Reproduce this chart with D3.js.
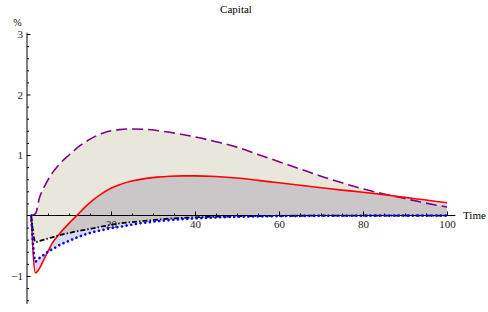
<!DOCTYPE html>
<html>
<head>
<meta charset="utf-8">
<script src="https://cdn.jsdelivr.net/npm/d3@7"></script>
<style>
  body { margin: 0; background: #fff; }
  svg text { font-family: "Liberation Serif", "Times New Roman", "DejaVu Serif", serif; }
</style>
</head>
<body>
<svg id="chart"></svg>
<script>
const width = 488;
const height = 312;

// time points and the four impulse responses (%)
const time   = [1, 2, 3, 4, 5, 6, 8, 10, 12, 14, 16, 18, 20, 22, 25, 28, 31, 34, 37, 40, 45, 50, 55, 60, 65, 70, 75, 80, 85, 90, 95, 100];
const purple = [0, 0.03, 0.3, 0.46, 0.59, 0.7, 0.87, 1.0, 1.12, 1.22, 1.3, 1.36, 1.4, 1.42, 1.43, 1.425, 1.405, 1.375, 1.34, 1.3, 1.22, 1.13, 1.01, 0.89, 0.77, 0.65, 0.54, 0.44, 0.355, 0.28, 0.205, 0.14];
const red    = [0, -0.95, -0.87, -0.73, -0.59, -0.46, -0.28, -0.13, 0.01, 0.15, 0.27, 0.37, 0.45, 0.51, 0.57, 0.61, 0.635, 0.65, 0.655, 0.655, 0.645, 0.62, 0.58, 0.54, 0.5, 0.46, 0.42, 0.385, 0.345, 0.3, 0.255, 0.21];
const black  = [0, -0.44, -0.42, -0.4, -0.38, -0.36, -0.32, -0.29, -0.26, -0.235, -0.21, -0.18, -0.155, -0.13, -0.11, -0.09, -0.07, -0.05, -0.04, -0.03, -0.02, -0.013, -0.009, -0.006, -0.004, -0.003, -0.002, -0.002, -0.001, -0.001, -0.001, -0.001];
const blue   = [0, -0.76, -0.7, -0.65, -0.6, -0.56, -0.48, -0.42, -0.36, -0.31, -0.27, -0.24, -0.21, -0.19, -0.15, -0.12, -0.095, -0.075, -0.06, -0.048, -0.032, -0.022, -0.015, -0.01, -0.007, -0.005, -0.004, -0.003, -0.002, -0.002, -0.002, -0.002];

const xMajor = [20, 40, 60, 80, 100];
const yMajor = [-1, 1, 2, 3];

const svg = d3.select("#chart").attr("width", width).attr("height", height);

const x = d3.scaleLinear().domain([0, 100]).range([27, 447]);
const y = d3.scaleLinear().domain([0, 3]).range([215.5, 34]);

const rows = time.map((t, i) => ({ t, p: purple[i], r: red[i], k: black[i], b: blue[i] }));
const curve = d3.curveMonotoneX;
const serif = "Liberation Serif, Times New Roman, DejaVu Serif, serif";

// fills: purple <-> black (beige), red <-> blue (lavender), overlap grey
const areaPK = d3.area().x(d => x(d.t)).y0(d => y(d.k)).y1(d => y(d.p)).curve(curve);
const areaRB = d3.area().x(d => x(d.t)).y0(d => y(d.b)).y1(d => y(d.r)).curve(curve);

svg.append("clipPath").attr("id", "clipPK").append("path").attr("d", areaPK(rows));
svg.append("path").attr("d", areaPK(rows)).attr("fill", "#e9e6dc");
svg.append("path").attr("d", areaRB(rows)).attr("fill", "#d9daef");
svg.append("path").attr("d", areaRB(rows)).attr("fill", "#cbc7c8").attr("clip-path", "url(#clipPK)");

// x axis
const xAxis = svg.append("g").attr("transform", `translate(0,${y(0)})`);
xAxis.append("line").attr("x1", x(0)).attr("x2", x(102)).attr("stroke", "#000").attr("stroke-width", 1);
xAxis.append("g")
  .call(d3.axisBottom(x).tickValues(d3.range(5, 101, 5).filter(v => v % 20)).tickSizeInner(-2).tickSizeOuter(0).tickFormat(""))
  .call(g => g.select(".domain").remove());
xAxis.append("g")
  .call(d3.axisBottom(x).tickValues(xMajor).tickSizeInner(-4).tickSizeOuter(0).tickPadding(5))
  .attr("font-family", serif).attr("font-size", 11)
  .call(g => g.select(".domain").remove())
  .call(g => g.selectAll("text").attr("fill", "#222"));
svg.append("text").attr("x", 463).attr("y", 218.5).attr("font-size", 11).text("Time");

// y axis
const yAxis = svg.append("g").attr("transform", `translate(${x(0)},0)`);
yAxis.append("line").attr("y1", y(-1.46)).attr("y2", y(3.02)).attr("stroke", "#000").attr("stroke-width", 1);
yAxis.append("g")
  .call(d3.axisLeft(y).tickValues(d3.range(-14, 31, 2).map(v => v / 10).filter(v => Math.abs(v - Math.round(v)) > 1e-6)).tickSizeInner(-2).tickSizeOuter(0).tickFormat(""))
  .call(g => g.select(".domain").remove());
yAxis.append("g")
  .call(d3.axisLeft(y).tickValues(yMajor).tickSizeInner(-3.5).tickSizeOuter(0).tickPadding(4).tickFormat(d => d < 0 ? "\u2212" + Math.abs(d) : d))
  .attr("font-family", serif).attr("font-size", 11)
  .call(g => g.select(".domain").remove())
  .call(g => g.selectAll("text").attr("fill", "#222"));
svg.append("text").attr("x", 17.5).attr("y", 25.5).attr("text-anchor", "middle").attr("font-size", 10).text("%");

// title
svg.append("text").attr("x", 236).attr("y", 13).attr("text-anchor", "middle").attr("font-size", 11).text("Capital");

// curves
const line = key => d3.line().x(d => x(d.t)).y(d => y(d[key])).curve(curve);
svg.append("path").datum(rows).attr("d", line("p")).attr("fill", "none")
  .attr("stroke", "#800080").attr("stroke-width", 1.6).attr("stroke-dasharray", "11,5");
svg.append("path").datum(rows).attr("d", line("r")).attr("fill", "none")
  .attr("stroke", "#ff0000").attr("stroke-width", 1.6);
svg.append("path").datum(rows).attr("d", line("k")).attr("fill", "none")
  .attr("stroke", "#000").attr("stroke-width", 1.8).attr("stroke-dasharray", "5,2,1.5,2");
svg.append("path").datum(rows).attr("d", line("b")).attr("fill", "none")
  .attr("stroke", "#0000ff").attr("stroke-width", 2.6).attr("stroke-linecap", "round").attr("stroke-dasharray", "0.1,4.6");
</script>
</body>
</html>
